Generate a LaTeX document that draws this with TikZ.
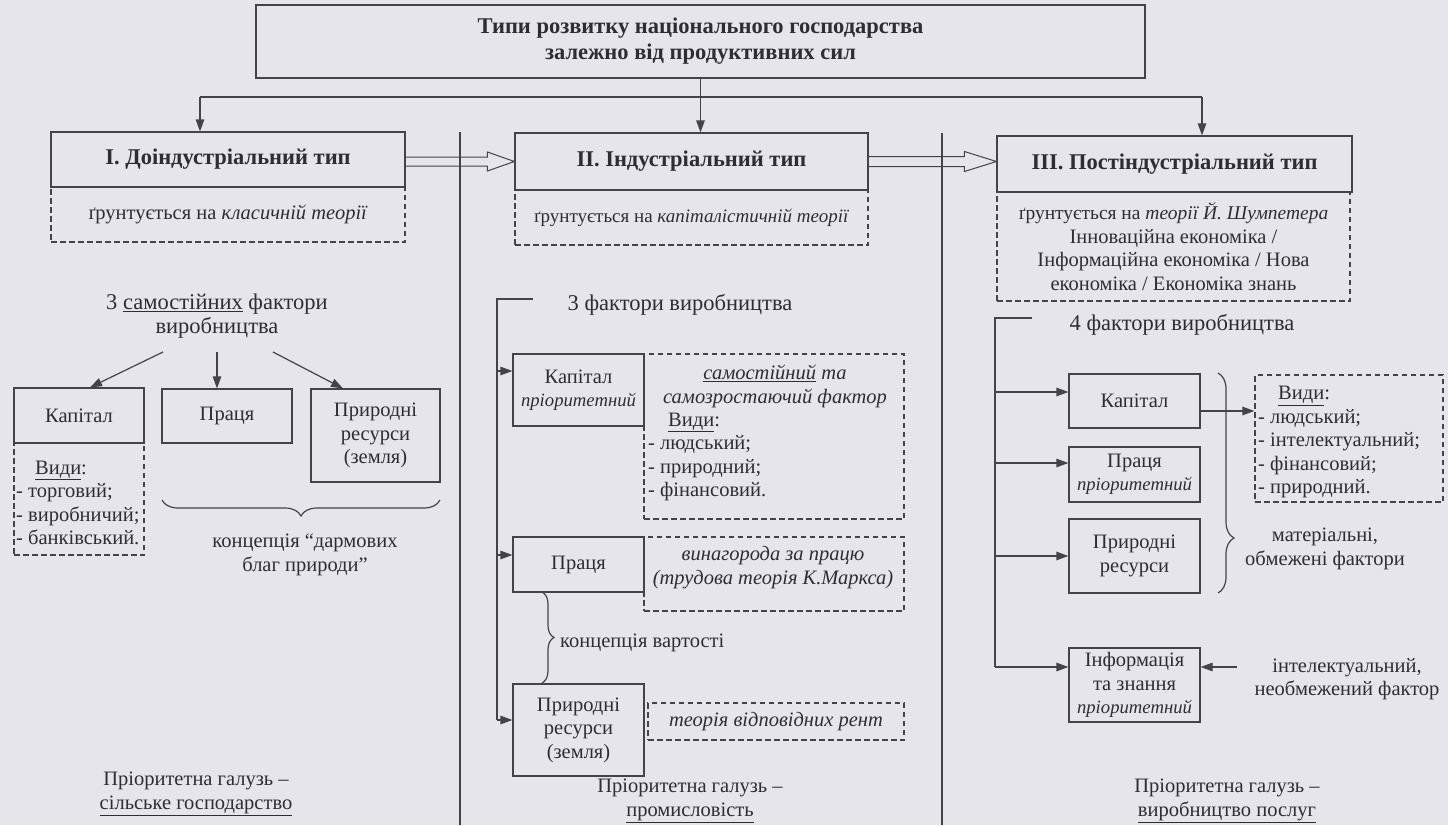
\documentclass[tikz,border=0pt]{standalone}
\usepackage{fontspec}
\setmainfont{Liberation Serif}
\usetikzlibrary{arrows.meta,calc,decorations.pathreplacing}
\definecolor{bgcol}{RGB}{230,230,234}
\definecolor{lncol}{RGB}{68,68,72}
\definecolor{txtcol}{RGB}{45,45,50}
\newcommand\prio{{\fontsize{18.7}{23.5}\selectfont\itshape пріоритетний}}
\begin{document}
\fontsize{20.5}{23.5}\selectfont
\begin{tikzpicture}[x=1pt,y=-1pt, text=txtcol,
  box/.style={draw=lncol, line width=1.2pt, inner sep=0pt, align=center},
  dbox/.style={box, dash pattern=on 5.5pt off 3.5pt},
  arr/.style={draw=lncol, line width=1.2pt, -{Triangle[length=12pt,width=8.5pt]}},
  plain/.style={draw=lncol, line width=1.2pt},
  lbl/.style={inner sep=0pt, align=center},
  lst/.style={inner sep=0pt, align=left, anchor=west},
  btitle/.style={font=\fontsize{22.5}{26}\selectfont\bfseries},
  head/.style={lbl, font=\fontsize{22.5}{23.5}\selectfont},
  brc/.style={plain, decorate, decoration={brace, amplitude=#1}}
]
\fill[bgcol] (0,0) rectangle (1448,825);
\useasboundingbox (0,0) rectangle (1448,825);

% separators
\coordinate (s1t) at (460,132); \coordinate (s1b) at (460,825);
\coordinate (s2t) at (942,133); \coordinate (s2b) at (942,825);
\draw[plain] (s1t) -- (s1b);
\draw[plain] (s2t) -- (s2b);

% title and type boxes
\node[box, minimum width=889, minimum height=73, btitle] (title) at (700.5,41.5) {Типи розвитку національного господарства\\залежно від продуктивних сил};

\node[dbox, minimum width=354, minimum height=55] (d1) at (228,214.5) {ґрунтується на \textit{класичній теорії}};
\node[box, minimum width=354, minimum height=55, btitle] (t1) at (228,159.5) {І. Доіндустріальний тип};
\node[dbox, minimum width=353, minimum height=55, font=\fontsize{19}{23.5}\selectfont] (d2) at (691.5,217.5) {ґрунтується на \textit{капіталістичній теорії}};
\node[box, minimum width=353, minimum height=57, btitle] (t2) at (691.5,161.5) {ІІ. Індустріальний тип};
\node[dbox, minimum width=353, minimum height=109] (d3) at (1173.5,246.5) {{\fontsize{19.5}{23.5}\selectfont ґрунтується на \textit{теорії Й. Шумпетера}}\\Інноваційна економіка /\\Інформаційна економіка / Нова\\економіка / Економіка знань};
\node[box, minimum width=355, minimum height=56, btitle] (t3) at (1174.5,164) {ІІІ. Постіндустріальний тип};

\coordinate (hl) at (200,97); \coordinate (hr) at (1202,97);
\draw[plain] (hl) -- (hr);
\draw[arr] (hl) -- (hl |- t1.north);
\draw[arr] (title.south) -- (title.south |- t2.north);
\draw[arr] (hr) -- (hr |- t3.north);

% hollow arrows
\draw[plain, line width=1pt] ($(t1.east|-t2.west)+(0,-4.5)$) -- ($(t2.west)+(-27,-4.5)$) -- ($(t2.west)+(-27,-9.5)$) -- (t2.west) -- ($(t2.west)+(-27,9.5)$) -- ($(t2.west)+(-27,4.5)$) -- ($(t1.east|-t2.west)+(0,4.5)$);
\draw[plain, line width=1pt] ($(t2.east)+(0,-5)$) -- ($(t3.west|-t2.east)+(-32,-5)$) -- ($(t3.west|-t2.east)+(-32,-10)$) -- (t3.west|-t2.east) -- ($(t3.west|-t2.east)+(-32,10)$) -- ($(t3.west|-t2.east)+(-32,5)$) -- ($(t2.east)+(0,5)$);

% ---------- left column
\node[head] (f1) at (217,316) {3 \underline{самостійних} фактори\\виробництва};
\node[dbox, minimum width=130, minimum height=112] (c1d) at (79,499) {};
\node[box, minimum width=130, minimum height=55] (c1) at (79,415.5) {Капітал};
\node[lst] (c1l) at (16,503) {\hspace*{19pt}\underline{Види}:\\- торговий;\\- виробничий;\\- банківський.};
\node[box, minimum width=130, minimum height=54] (p1) at (227,416) {Праця};
\node[box, minimum width=129, minimum height=93] (n1) at (375.5,435.5) {Природні\\ресурси\\(земля)};
\coordinate (a1) at (163,352); \coordinate (a2) at (217,352); \coordinate (a3) at (273,352);
\draw[arr] (a1) -- ($(c1.north)+(11,0)$);
\draw[arr] (a2) -- (a2 |- p1.north);
\draw[arr] (a3) -- ($(n1.north)+(-32.5,0)$);
\coordinate (b1a) at (440,500); \coordinate (b1b) at (162,500);
\draw[brc=16pt] (b1a) -- (b1b);
\node[lbl] (k1) at (305,555) {концепція “дармових\\благ природи”};
\node[lbl] (g1) at (196,794) {Пріоритетна галузь~–\\\underline{сільське господарство}};

% ---------- middle column
\node[head] (f2) at (680,305) {3 фактори виробництва};
\node[dbox, minimum width=260, minimum height=165] (c2d) at (774,436.5) {};
\node[box, minimum width=131, minimum height=72] (c2) at (578.5,390) {Капітал\\\prio};
\node[lbl, font=\itshape] (c2t) at (775,386.5) {\underline{самостійний} та\\самозростаючий фактор};
\node[lst] (c2l) at (648,457) {\hspace*{20pt}\upshape\underline{Види}:\\- людський;\\- природний;\\- фінансовий.};
\node[dbox, minimum width=260, minimum height=74] (p2d) at (774,574) {};
\node[box, minimum width=131, minimum height=55] (p2) at (578.5,564.5) {Праця};
\node[lbl, font=\itshape] (p2t) at (773,567.5) {винагорода за працю\\(трудова теорія К.Маркса)};
\node[box, minimum width=131, minimum height=92] (n2) at (578.5,730) {Природні\\ресурси\\(земля)};
\node[dbox, minimum width=256, minimum height=37, font=\itshape] (n2d) at (776,721.5) {теорія відповідних рент};
\coordinate (m2a) at (533,299); \coordinate (m2b) at (497,299);
\draw[plain] (m2a) -- (m2b) -- ($(m2b|-n2.west)+(0,-10)$);
\draw[arr] ($(m2b|-c2.west)+(0,-19)$) -- ($(c2.west)+(0,-19)$);
\draw[arr] ($(m2b|-p2.west)+(0,-9.5)$) -- ($(p2.west)+(0,-9.5)$);
\draw[arr] ($(m2b|-n2.west)+(0,-10)$) -- ($(n2.west)+(0,-10)$);
\coordinate (b2a) at (542,592); \coordinate (b2b) at (542,683);
\draw[brc=12pt] (b2a) -- (b2b);
\node[lbl, anchor=west] (kv) at (560,643) {концепція вартості};
\node[lbl] (g2) at (690,801) {Пріоритетна галузь~–\\\underline{промисловість}};

% ---------- right column
\node[head] (f3) at (1182,325) {4 фактори виробництва};
\node[box, minimum width=131, minimum height=54] (c3) at (1134.5,401) {Капітал};
\node[box, minimum width=131, minimum height=55] (p3) at (1134.5,474.5) {Праця\\\prio};
\node[box, minimum width=131, minimum height=74] (n3) at (1134.5,556) {Природні\\ресурси};
\node[box, minimum width=131, minimum height=74] (i3) at (1134.5,685) {Інформація\\та знання\\\prio};
\coordinate (m3a) at (1032,318); \coordinate (m3b) at (995,318);
\draw[plain] (m3a) -- (m3b) -- ($(m3b|-i3.west)+(0,-18)$);
\draw[arr] ($(m3b|-c3.west)+(0,-9)$) -- ($(c3.west)+(0,-9)$);
\draw[arr] ($(m3b|-p3.west)+(0,-11.5)$) -- ($(p3.west)+(0,-11.5)$);
\draw[arr] (m3b|-n3.west) -- (n3.west);
\draw[arr] ($(m3b|-i3.west)+(0,-18)$) -- ($(i3.west)+(0,-18)$);
\coordinate (b3a) at (1218,373); \coordinate (b3b) at (1218,593);
\draw[plain, decorate, decoration={brace, amplitude=16pt, aspect=0.75}] (b3a) -- (b3b);
\node[dbox, minimum width=188, minimum height=127] (v3) at (1349,438.5) {};
\node[lst] (v3l) at (1258,442) {\hspace*{20pt}\underline{Види}:\\- людський;\\- інтелектуальний;\\- фінансовий;\\- природний.};
\draw[arr] ($(c3.east)+(0,10)$) -- ($(v3.west|-c3.east)+(0,10)$);
\node[lbl] (mt3) at (1325,549) {матеріальні,\\обмежені фактори};
\node[lbl] (it3) at (1347,679) {інтелектуальний,\\необмежений фактор};
\coordinate (ia) at (1237,667);
\draw[arr] (ia) -- (ia -| i3.east);
\node[lbl] (g3) at (1227,801) {Пріоритетна галузь~–\\\underline{виробництво послуг}};
\end{tikzpicture}
\end{document}
